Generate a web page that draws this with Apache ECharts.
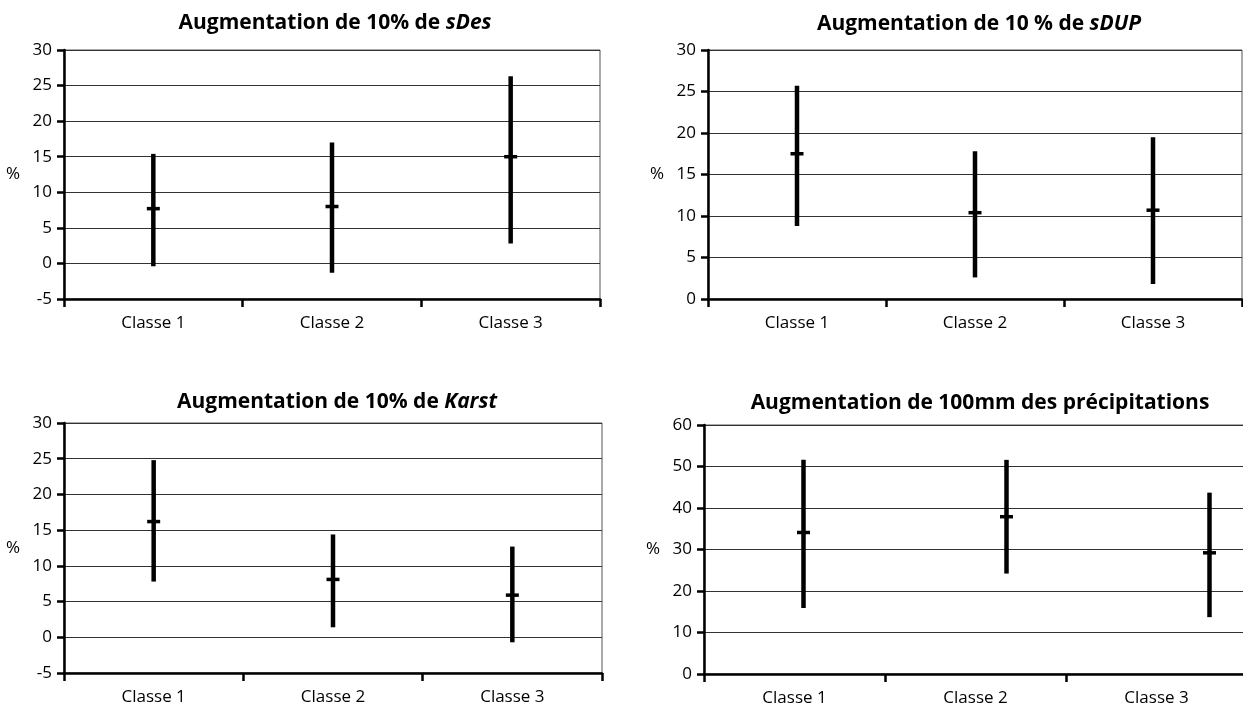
<!DOCTYPE html>
<html>
<head>
<meta charset="utf-8">
<script src="https://cdn.jsdelivr.net/npm/echarts@6/dist/echarts.min.js"></script>
<style>
  html, body { margin: 0; padding: 0; background: #fff; }
  #main { width: 1243px; height: 720px; }
</style>
</head>
<body>
<div id="main"></div>
<script>
// categories shared by the four panels
var categories = ['Classe 1', 'Classe 2', 'Classe 3'];

// Augmentation de 10% de sDes
var sDesLow = [-0.4, -1.3, 2.8];
var sDesHigh = [15.4, 17.0, 26.3];
var sDesMid = [7.7, 8.0, 15.0];

// Augmentation de 10 % de sDUP
var sDupLow = [8.8, 2.6, 1.8];
var sDupHigh = [25.7, 17.8, 19.5];
var sDupMid = [17.5, 10.4, 10.7];

// Augmentation de 10% de Karst
var karstLow = [7.8, 1.4, -0.7];
var karstHigh = [24.8, 14.4, 12.7];
var karstMid = [16.2, 8.1, 5.9];

// Augmentation de 100mm des précipitations
var precipLow = [15.9, 24.2, 13.7];
var precipHigh = [51.6, 51.6, 43.7];
var precipMid = [34.1, 37.9, 29.2];

// y axis ranges
var yMin = [-5, 0, -5, 0];
var yMax = [30, 30, 30, 60];
var yStep = [5, 5, 5, 10];

var FONT = "'Open Sans', 'Liberation Sans', sans-serif";

var panels = [
  { pre: 'Augmentation de 10% de ', it: 'sDes', low: sDesLow, high: sDesHigh, mid: sDesMid },
  { pre: 'Augmentation de 10 % de ', it: 'sDUP', low: sDupLow, high: sDupHigh, mid: sDupMid },
  { pre: 'Augmentation de 10% de ', it: 'Karst', low: karstLow, high: karstHigh, mid: karstMid },
  { pre: 'Augmentation de 100mm des précipitations', it: '', low: precipLow, high: precipHigh, mid: precipMid }
];

// layout of each panel (pixels)
var grids = [
  { left: 64, top: 50, width: 536, height: 249 },
  { left: 708, top: 50, width: 534, height: 249 },
  { left: 64, top: 423, width: 538, height: 250 },
  { left: 704, top: 425, width: 543, height: 249 }
];
// in the last panel the marks sit on a wider band than the labelled axis
var markGrid = [0, 1, 2, 4];
var extraGrid = { left: 702, top: 425, width: 609, height: 249 };
var titlePos = [[330, 8], [974, 9], [332, 387], [975, 388]];

function renderItem(params, api) {
  var i = api.value(0);
  var lo = api.coord([i, api.value(1)]);
  var hi = api.coord([i, api.value(2)]);
  var md = api.coord([i, api.value(3)]);
  return {
    type: 'group',
    children: [
      { type: 'line', shape: { x1: lo[0], y1: lo[1], x2: hi[0], y2: hi[1] },
        style: { stroke: '#000', lineWidth: 4.5 } },
      { type: 'line', shape: { x1: md[0] - 6.5, y1: md[1], x2: md[0] + 6.5, y2: md[1] },
        style: { stroke: '#000', lineWidth: 3.5 } }
    ]
  };
}

var option = {
  animation: false,
  backgroundColor: '#fff',
  textStyle: { fontFamily: FONT },
  title: [],
  grid: [],
  xAxis: [],
  yAxis: [],
  series: []
};

panels.forEach(function (p, k) {
  option.title.push({
    text: p.it ? '{b|' + p.pre + '}{i|' + p.it + '}' : '{b|' + p.pre + '}',
    left: titlePos[k][0],
    top: titlePos[k][1],
    textAlign: 'center',
    textStyle: {
      rich: {
        b: { fontFamily: FONT, fontSize: 21, fontWeight: 'bold', color: '#000' },
        i: { fontFamily: FONT, fontSize: 21, fontWeight: 'bold', fontStyle: 'italic', color: '#000' }
      }
    }
  });

  option.grid.push({
    left: grids[k].left, top: grids[k].top,
    width: grids[k].width, height: grids[k].height,
    outerBoundsMode: 'none',
    show: true, borderColor: '#555', borderWidth: 1, backgroundColor: 'transparent'
  });

  option.xAxis.push({
    type: 'category',
    gridIndex: k,
    data: categories,
    boundaryGap: true,
    axisLine: { show: true, onZero: false, lineStyle: { color: '#000', width: 2.5 } },
    axisTick: { show: true, length: 8, lineStyle: { color: '#000', width: 2.5 } },
    axisLabel: { color: '#000', fontSize: 17, margin: 16, fontFamily: FONT },
    splitLine: { show: false }
  });

  option.yAxis.push({
    type: 'value',
    gridIndex: k,
    min: yMin[k], max: yMax[k], interval: yStep[k],
    name: '%',
    nameLocation: 'middle',
    nameRotate: 0,
    nameGap: 44,
    nameTextStyle: { color: '#000', fontSize: 17, fontFamily: FONT },
    axisLine: { show: true, lineStyle: { color: '#000', width: 2.5 } },
    axisTick: { show: true, length: 7, lineStyle: { color: '#000', width: 2.5 } },
    axisLabel: { color: '#000', fontSize: 17, margin: 12, fontFamily: FONT },
    splitLine: { show: true, lineStyle: { color: '#333', width: 1 } }
  });
});

// hidden band for the marks of the last panel
option.grid.push({
  left: extraGrid.left, top: extraGrid.top,
  width: extraGrid.width, height: extraGrid.height,
  outerBoundsMode: 'none', show: false
});
option.xAxis.push({ type: 'category', gridIndex: 4, data: categories, show: false });
option.yAxis.push({ type: 'value', gridIndex: 4, min: yMin[3], max: yMax[3], show: false });

panels.forEach(function (p, k) {
  var data = categories.map(function (c, i) {
    return [i, p.low[i], p.high[i], p.mid[i]];
  });
  option.series.push({
    type: 'custom',
    xAxisIndex: markGrid[k],
    yAxisIndex: markGrid[k],
    renderItem: renderItem,
    encode: { x: 0, y: [1, 2, 3] },
    data: data
  });
});

var myChart = echarts.init(document.getElementById('main'));
myChart.setOption(option);
</script>
</body>
</html>
